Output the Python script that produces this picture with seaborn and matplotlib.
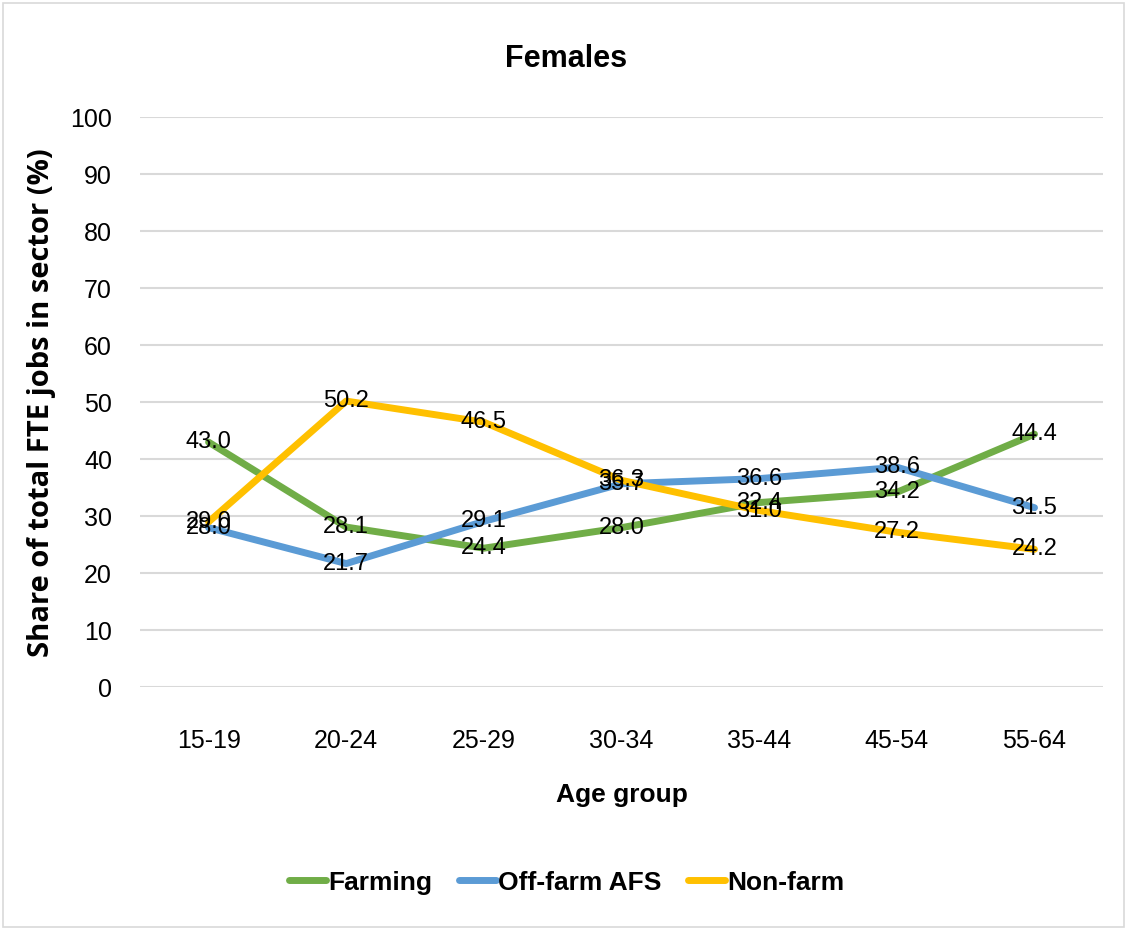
import pandas as pd
import matplotlib.pyplot as plt
import seaborn as sns
from matplotlib.patches import Rectangle

# Data
age_groups = ['15-19', '20-24', '25-29', '30-34', '35-44', '45-54', '55-64']
farming = [43.0, 28.1, 24.4, 28.0, 32.4, 34.2, 44.4]
off_farm = [28.0, 21.7, 29.1, 35.7, 36.6, 38.6, 31.5]
non_farm = [29.0, 50.2, 46.5, 36.3, 31.0, 27.2, 24.2]

series_names = ['Farming', 'Off-farm AFS', 'Non-farm']
colors = ['#70AD47', '#5B9BD5', '#FFC000']

df = pd.DataFrame({'Age group': age_groups,
                   'Farming': farming,
                   'Off-farm AFS': off_farm,
                   'Non-farm': non_farm})
long_df = df.melt(id_vars='Age group', var_name='Sector', value_name='Share')

sns.set_style('white')
plt.rcParams['font.family'] = ['Liberation Sans', 'DejaVu Sans']
plt.rcParams.update({'text.color': 'black', 'axes.labelcolor': 'black',
                     'xtick.color': 'black', 'ytick.color': 'black'})

fig = plt.figure(figsize=(11.27, 9.3), dpi=100)
ax = fig.add_axes([0.124, 0.261, 0.855, 0.613])

sns.lineplot(data=long_df, x='Age group', y='Share', hue='Sector',
             hue_order=series_names, palette=colors, linewidth=5,
             sort=False, ax=ax, legend=True)

# Data labels centred on each point
for name in series_names:
    sub = long_df[long_df['Sector'] == name].reset_index(drop=True)
    for i, v in enumerate(sub['Share']):
        ax.text(i, v, f'{v:.1f}', ha='center', va='center', fontsize=17, color='black')

ax.set_ylim(0, 100)
ax.set_xlim(-0.5, len(age_groups) - 0.5)
ax.set_yticks(range(0, 101, 10))
ax.yaxis.grid(True, color='#D9D9D9', linewidth=1.5)
ax.set_axisbelow(True)
for s in ax.spines.values():
    s.set_visible(False)
ax.tick_params(axis='both', length=0, labelsize=18)
ax.tick_params(axis='x', pad=30)
ax.tick_params(axis='y', pad=20)

ax.set_xlabel('Age group', fontsize=19, fontweight='bold', labelpad=22)
ax.set_ylabel('Share of total FTE jobs in sector (%)', fontsize=21, fontweight='bold',
              labelpad=10, family=['Open Sans', 'DejaVu Sans'])
ax.set_title('Females', fontsize=22, fontweight='bold', pad=36, x=0.442)

leg = ax.legend(loc='upper center', bbox_to_anchor=(0.443, -0.28), ncol=3, frameon=False,
                fontsize=19, handlelength=1.4, handletextpad=0.1, columnspacing=1.0)
for t in leg.get_texts():
    t.set_fontweight('bold')
for h in leg.get_lines():
    h.set_linewidth(5)
    h.set_solid_capstyle('round')

fig.patches.append(Rectangle((0.003, 0.003), 0.994, 0.994, transform=fig.transFigure,
                             fill=False, edgecolor='#D9D9D9', linewidth=1.2))

plt.savefig('out.png', dpi=100)
